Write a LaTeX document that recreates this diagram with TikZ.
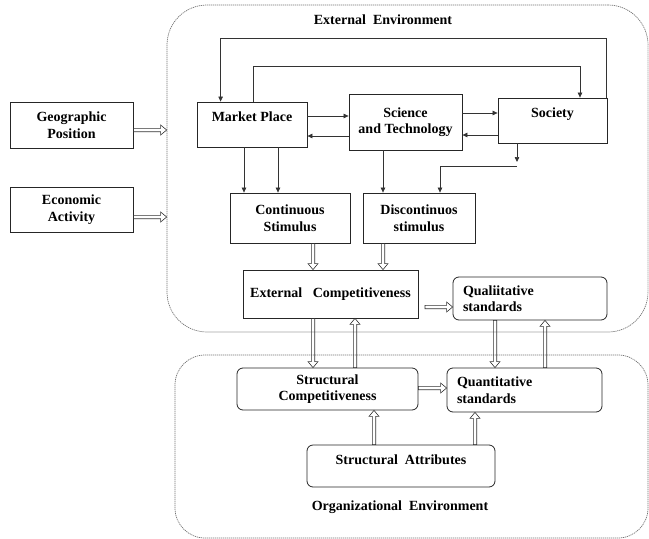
\documentclass[tikz,border=0pt]{standalone}
\usepackage{fontspec}
\setmainfont{Liberation Serif}
\usetikzlibrary{arrows.meta,calc}

\begin{document}
\begin{tikzpicture}[x=1pt,y=-1pt,
  every node/.style={font=\fontsize{14}{16.5}\selectfont\bfseries},
  box/.style={draw=black!85, line width=0.8pt, inner sep=0pt, align=center},
  rbox/.style={box, rounded corners=6pt},
  lbox/.style={rbox, align=left, inner xsep=10pt},
  env/.style={draw=black!55, dash pattern=on 1.2pt off 0.8pt, line width=0.7pt, rounded corners=40pt, inner sep=0pt},
  thin/.style={draw=black!80, line width=0.7pt, -{Triangle[length=5pt,width=4.5pt]}},
  % outlined block arrow: two parallel rails ending in an open head
  hollow/.style={draw=black!80, line width=0.6pt, line join=miter, to path={
    let \p1=(\tikztostart), \p2=(\tikztotarget),
        \n1={atan2(\y2-\y1,\x2-\x1)}, \n2={veclen(\x2-\x1,\y2-\y1)} in
    ([shift={(\p1)},rotate=\n1]0pt,1.7pt)
    -- ([shift={(\p1)},rotate=\n1]{\n2-6pt},1.7pt)
    -- ([shift={(\p1)},rotate=\n1]{\n2-6pt},5pt)
    -- (\p2)
    -- ([shift={(\p1)},rotate=\n1]{\n2-6pt},-5pt)
    -- ([shift={(\p1)},rotate=\n1]{\n2-6pt},-1.7pt)
    -- ([shift={(\p1)},rotate=\n1]0pt,-1.7pt) -- cycle}},
]
\useasboundingbox (0,0) rectangle (649,539);

% environments
\node[env, minimum width=481pt, minimum height=327pt] (ext) at (407.5,168.5) {};
\node[env, rounded corners=30pt, minimum width=473pt, minimum height=183pt] (org) at (411.5,446.5) {};
\node (exttitle) at (383,20) {External\ \ Environment};
\node (orgtitle) at (400,507) {Organizational\ \ Environment};

% left inputs
\node[box, minimum width=123pt, minimum height=46pt] (geo) at (71.5,125) {Geographic\\Position};
\node[box, minimum width=123pt, minimum height=45pt] (eco) at (71.5,209.5) {Economic\\Activity};

% external environment
\node[box, minimum width=110pt, minimum height=45pt] (mp) at (252,124.5) {Market Place\\\mbox{}};
\node[box, minimum width=113pt, minimum height=56pt] (st) at (405.5,122) {Science\\and\ Technology};
\node[box, minimum width=109pt, minimum height=45pt] (soc) at (552.5,120.5) {Society\\\mbox{}};
\node[box, minimum width=120pt, minimum height=50pt] (cs) at (290,218) {Continuous\\Stimulus};
\node[box, minimum width=112pt, minimum height=50pt] (ds) at (419,218) {Discontinuos\\stimulus};
\node[box, minimum width=175pt, minimum height=48pt] (ec) at (330.5,294) {External\ \ \ Competitiveness};
\node[lbox, text width=134pt, minimum height=43pt] (ql) at (530,298.5) {Qualiitative\\standards};

% organizational environment
\node[rbox, minimum width=181pt, minimum height=42pt] (sc) at (327.5,389) {Structural\\Competitiveness};
\node[lbox, text width=135pt, minimum height=44pt] (qn) at (524.5,390) {Quantitative\\standards};
\node[rbox, minimum width=188pt, minimum height=42pt] (sa) at (401,466) {Structural\ \ Attributes\\[-4pt]\mbox{}};

% feedback loops over the top
\draw[thin] ([xshift=-1pt]soc.north east) -- ++(0,-59) -| ([xshift=24pt]mp.north west);
\draw[thin] ([xshift=1pt]mp.north) -- ++(0,-35) -| ([xshift=27.5pt]soc.north);

% links between the top boxes
\draw[thin] (mp.east |- 0,116) -- (st.west |- 0,116);
\draw[thin] (st.west |- 0,136) -- (mp.east |- 0,136);
\draw[thin] (st.east |- 0,113) -- (soc.west |- 0,113);
\draw[thin] (soc.west |- 0,135) -- (st.east |- 0,135);

% down to the stimuli
\draw[thin] (mp.south -| 244,0) -- (cs.north -| 244,0);
\draw[thin] (mp.south -| 278,0) -- (cs.north -| 278,0);
\draw[thin] (st.south -| 383,0) -- (ds.north -| 383,0);
\draw[thin] (soc.south -| 517,0) -- (517,162);
\draw[thin] (517,166) -| (ds.north -| 440,0);

% block arrows
\draw[hollow] (geo.east |- 0,130) to (ext.west |- 0,130);
\draw[hollow] (eco.east |- 0,217) to (ext.west |- 0,217);
\draw[hollow] (cs.south -| 313,0) to (ec.north -| 313,0);
\draw[hollow] (ds.south -| 383,0) to (ec.north -| 383,0);
\draw[hollow] (425,307) to (ql.west |- 0,307);
\draw[hollow] (ec.south -| 313,0) to (sc.north -| 313,0);
\draw[hollow] (sc.north -| 355,0) to (ec.south -| 355,0);
\draw[hollow] (ql.south -| 495,0) to (qn.north -| 495,0);
\draw[hollow] (qn.north -| 545,0) to (ql.south -| 545,0);
\draw[hollow] (sc.east |- 0,388) to (qn.west |- 0,388);
\draw[hollow] (sa.north -| 374,0) to (sc.south -| 374,0);
\draw[hollow] (sa.north -| 475,0) to (qn.south -| 475,0);
\end{tikzpicture}
\end{document}
